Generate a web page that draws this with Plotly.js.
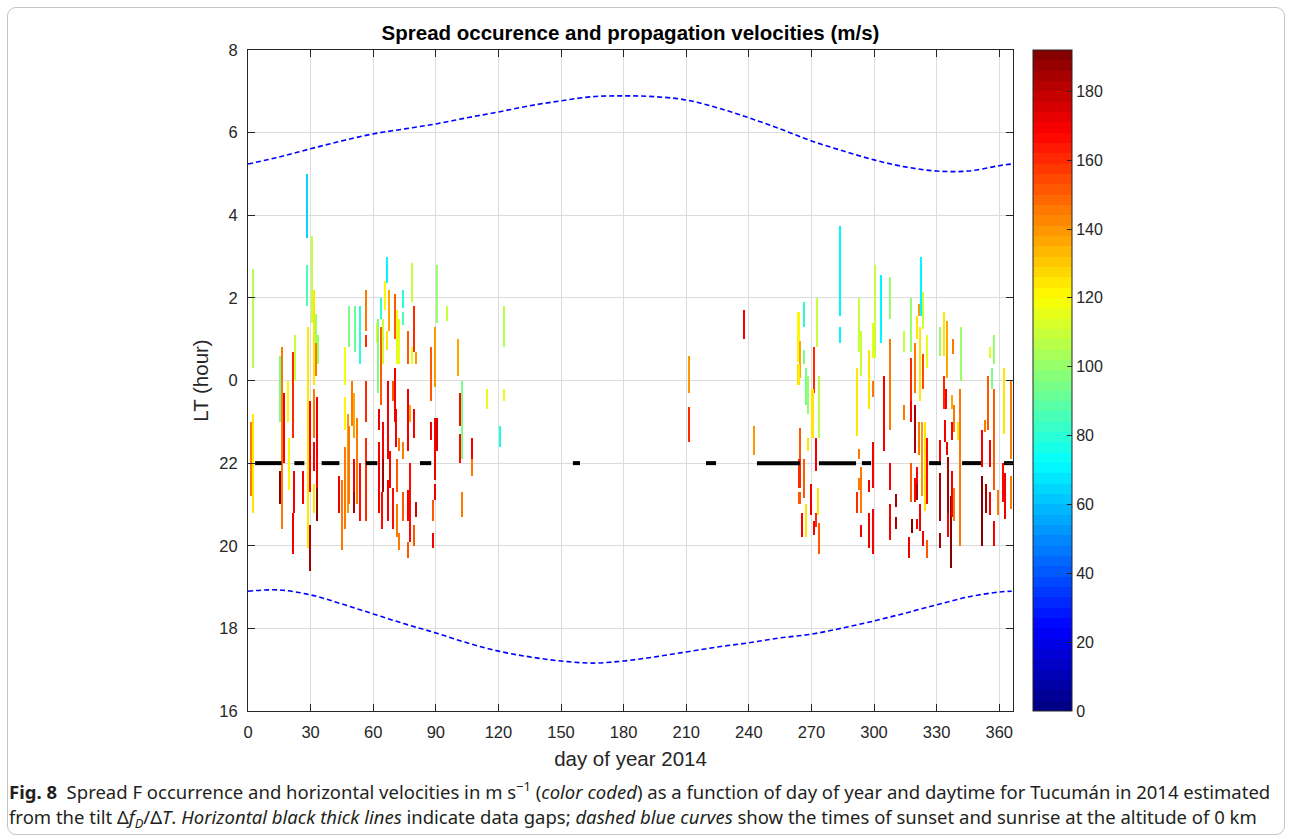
<!DOCTYPE html>
<html><head><meta charset="utf-8">
<script src="https://cdn.plot.ly/plotly-3.0.1.min.js"></script>
<style>
html,body{margin:0;padding:0;background:#fff;}
#chart{position:absolute;left:0;top:0;width:1291px;height:837px;}
#frame{position:absolute;left:7px;top:7px;width:1276px;height:826px;border:1px solid #c4c4c4;border-radius:9px;pointer-events:none;}
</style>
</head><body><div id="chart"></div><div id="frame"></div>
<script>
// ---- spread F segments: day of year, start hour, end hour (hours after 24 = next day), velocity m/s
const day = [
1.5,2.4,2.4,15.5,16.4,17.4,15.5,19.3,19.6,21.7,
22.2,21.7,22.6,26.5,28.4,28.4,28.8,29.6,29.6,30.5,
31.5,31.8,31.5,31.5,32.4,32.6,33.1,33.1,33.5,46.4,
46.5,48.5,51.4,53.5,43.8,44.9,46.5,47.8,48.6,50.0,
50.6,50.8,50.8,52.4,53.7,56.5,56.5,56.5,56.5,61.7,
62.5,63.6,63.6,62.6,62.8,64.5,64.5,64.5,64.3,65.5,
66.5,66.5,67.0,67.0,67.6,68.0,69.7,69.7,70.6,70.5,
71.0,71.6,71.6,71.6,72.5,72.5,72.5,74.4,74.4,74.4,
74.4,76.5,76.5,76.5,76.5,77.6,77.6,78.4,78.7,79.5,
79.5,79.5,80.5,80.5,87.5,87.5,88.5,88.5,89.6,89.6,
89.6,90.6,90.6,95.5,100.5,101.6,101.6,102.5,102.5,107.5,
107.5,114.4,120.6,122.5,122.5,211.5,211.5,237.7,242.5,
283.7,283.7,272.7,266.6,263.8,264.4,263.8,266.6,267.5,268.5,
271.2,270.5,273.5,292.8,293.6,291.7,297.6,300.5,299.7,303.4,
299.7,304.6,307.6,307.6,314.5,322.5,323.6,321.5,320.6,317.7,
319.6,317.7,322.0,323.5,325.5,331.8,333.7,334.8,337.7,341.7,
333.7,355.6,357.5,356.4,354.4,362.4,365.5,264.5,264.3,264.3,
265.6,267.5,266.6,268.5,269.9,272.4,273.2,272.4,271.3,273.5,
292.7,292.7,293.7,291.7,293.7,297.6,297.6,299.6,299.6,307.6,
307.6,310.6,310.6,314.5,317.7,319.6,317.7,319.6,320.6,320.6,
321.5,318.4,320.6,322.0,323.0,324.3,325.5,323.5,325.5,316.6,
331.6,331.6,331.6,334.0,334.5,335.0,335.5,335.5,336.9,337.5,
337.5,338.5,337.5,338.5,340.4,341.2,351.8,353.2,355.6,357.4,
351.8,353.5,355.6,357.6,359.5,361.9,362.8,365.6];
const tStart = [
21.2,20.8,24.3,23.0,20.4,22.0,21.0,23.0,21.35,22.6,
20.8,19.8,24.0,21.0,27.45,25.8,19.95,21.3,19.4,25.4,
23.9,22.6,21.8,20.8,24.4,24.1,21.4,20.6,24.4,23.9,
22.8,24.8,24.7,24.4,20.8,19.9,20.4,20.8,21.0,22.9,
22.6,21.3,20.8,21.0,20.6,25.2,24.8,23.0,20.6,24.9,
23.7,25.5,23.4,22.8,20.8,24.4,22.1,21.3,20.4,25.7,
26.35,24.75,22.1,20.6,25.2,21.4,23.5,20.4,25.0,23.0,
22.4,24.4,21.3,20.2,24.4,22.3,19.9,25.75,25.35,22.1,
20.6,24.4,22.3,20.6,19.7,20.1,23.0,25.9,24.4,24.7,
22.6,20.0,24.4,20.7,23.5,22.55,20.6,19.95,23.85,21.6,
21.1,25.4,22.3,25.45,24.1,22.9,22.0,22.1,20.7,22.1,
21.7,23.3,22.4,24.8,23.5,23.7,22.5,25.0,22.2,
25.55,24.9,24.8,25.3,24.45,24.05,23.9,24.4,23.4,23.2,
23.7,22.6,22.6,24.7,24.1,22.65,23.3,24.55,24.55,24.9,
23.6,22.3,25.5,22.8,24.7,25.55,25.25,25.55,25.0,24.7,
23.7,23.5,23.5,23.8,24.3,24.6,24.6,24.05,24.65,24.0,
23.3,24.55,24.4,23.8,22.8,22.7,22.1,22.1,21.4,21.0,
20.2,20.2,21.15,22.3,20.75,21.8,20.75,20.45,20.25,19.8,
22.1,21.35,20.8,20.8,20.2,19.95,21.3,21.4,19.8,21.35,
20.15,20.95,20.4,23.05,23.0,22.25,21.05,21.05,21.5,21.1,
22.2,20.3,20.4,20.35,21.2,20.85,21.0,20.0,19.7,19.7,
22.05,20.6,19.95,22.5,23.3,22.2,20.8,20.2,19.45,22.55,
23.3,22.75,20.7,20.6,22.55,20.0,21.9,22.75,21.9,21.35,
20.0,20.8,20.75,20.0,20.75,21.05,20.65,20.9];
const tEnd = [
23.0,23.2,26.7,24.6,24.8,23.7,21.8,24.0,22.6,24.7,
21.8,20.8,25.1,21.8,29.0,26.8,25.3,23.5,20.5,27.5,
26.2,23.8,22.5,21.5,25.6,24.9,23.6,21.4,25.1,24.8,
23.6,25.8,25.8,25.8,21.7,21.6,22.4,23.2,22.9,24.0,
23.7,22.1,21.3,23.1,22.0,26.2,25.1,24.0,22.6,25.4,
25.5,26.0,25.3,23.3,22.5,25.5,23.0,22.1,21.3,26.4,
27.0,25.2,24.0,21.6,26.2,22.3,24.0,21.4,26.1,24.3,
23.3,25.7,22.1,21.0,25.5,22.6,20.3,26.2,25.65,22.5,
21.3,25.2,23.8,21.35,20.1,22.0,23.4,26.85,24.8,25.8,
23.3,20.5,24.7,21.05,24.8,23.0,21.1,20.3,25.3,23.1,
21.5,26.8,23.1,25.8,25.0,23.7,22.7,24.0,21.3,22.6,
22.1,23.8,22.9,25.8,23.8,24.6,23.35,25.7,22.9,
27.75,25.3,26.0,25.9,25.65,24.95,24.4,24.75,24.3,24.1,
24.8,23.8,24.1,26.0,25.2,24.3,24.75,26.8,25.4,26.55,
24.0,24.1,26.5,25.0,25.2,27.0,26.15,25.85,25.55,26.0,
24.9,24.55,25.3,24.65,25.1,25.3,25.65,25.45,25.0,25.3,
24.1,24.8,25.1,24.3,24.1,24.3,24.0,22.85,22.1,21.3,
20.8,21.0,22.1,22.6,21.5,22.6,21.4,20.8,20.6,20.55,
22.35,21.65,21.9,21.3,20.5,20.8,21.6,22.5,20.9,22.0,
21.0,21.25,20.7,23.4,23.5,23.4,22.0,21.65,21.9,21.5,
23.0,20.65,20.65,21.0,23.0,23.0,22.6,20.35,20.15,20.2,
22.55,21.75,20.3,23.05,23.8,22.5,22.15,20.8,21.2,23.0,
23.65,23.4,21.8,21.4,23.0,23.8,22.8,23.05,22.55,23.8,
21.7,21.5,21.3,20.6,21.35,22.0,21.75,21.7];
const vel = [
145,125,105,95,145,170,190,120,120,160,
170,170,110,170,65,85,125,170,185,110,
125,145,170,125,100,145,170,190,100,118,
120,95,90,80,170,145,145,140,145,145,
135,170,185,145,165,145,160,160,160,120,
95,80,150,170,170,110,170,185,165,120,
70,125,170,170,135,170,150,165,150,170,
170,115,150,145,115,145,145,80,85,145,
150,150,170,170,150,165,135,110,115,160,
170,150,140,175,150,170,150,170,140,170,
170,100,175,110,135,165,165,95,145,170,
145,115,75,105,115,140,160,170,140,
70,70,110,80,120,135,125,95,95,100,
160,125,105,110,110,125,125,110,115,70,
145,170,100,145,110,70,110,140,125,100,
145,160,125,155,115,100,125,135,145,100,
160,115,100,95,150,125,145,150,160,150,
170,125,150,125,170,170,125,160,170,150,
145,145,145,160,170,170,170,170,170,170,
170,185,185,145,170,185,150,165,170,185,
145,190,170,170,140,125,165,170,150,170,
170,185,185,170,170,170,185,170,190,170,
135,145,170,145,125,145,170,145,170,150,
190,185,170,170,145,165,170,145];

// ---- data gaps (drawn at 22 LT)
const gapStart = [3.4,22.2,35.3,56.5,82.4,155.7,219.5,243.9,273.6,294.2,326.4,342.2,362.3];
const gapEnd   = [16.1,27.0,43.8,62.0,87.8,159.1,224.3,264.5,291.4,298.6,332.1,351.3,366.6];
const gapHour = 22;

// ---- sunrise / sunset at 0 km (hours; sunrise +24)
const sunDay  = [0,15,30,45,60,75,90,105,120,135,150,165,180,195,210,225,240,255,270,285,300,315,330,345,360,366];
const sunrise = [29.24,29.41,29.61,29.80,29.97,30.09,30.21,30.36,30.50,30.65,30.77,30.87,30.89,30.87,30.79,30.60,30.36,30.09,29.80,29.56,29.34,29.17,29.07,29.07,29.20,29.24];
const sunset  = [18.90,18.93,18.81,18.59,18.35,18.11,17.89,17.65,17.45,17.31,17.21,17.16,17.21,17.31,17.43,17.55,17.65,17.77,17.86,18.01,18.18,18.37,18.57,18.76,18.88,18.90];

// ---- axis ticks
const xTicks = [0,30,60,90,120,150,180,210,240,270,300,330,360];
const yTickVals = [16,18,20,22,24,26,28,30,32];
const yTickText = ['16','18','20','22','0','2','4','6','8'];
const cTicks = [0,20,40,60,80,100,120,140,160,180];

// MATLAB-like jet(64) stepped colorscale
function jetc(t){const c=v=>Math.round(255*Math.max(0,Math.min(1,v)));
  return 'rgb('+c(1.5-Math.abs(4*t-3))+','+c(1.5-Math.abs(4*t-2))+','+c(1.5-Math.abs(4*t-1))+')';}
const jet64=[];for(let i=0;i<64;i++){const col=jetc((i+0.5)/64);jet64.push([i/64,col]);jet64.push([(i+1)/64,col]);}

const dur = tEnd.map((e,i)=>e-tStart[i]);
const gx=[],gy=[];gapStart.forEach((s,i)=>{gx.push(s,gapEnd[i],null);gy.push(gapHour,gapHour,null);});

const FONT='Liberation Sans, Arial, Helvetica, sans-serif';
const CAP='Noto Sans, Open Sans, sans-serif';
const AX='#262626';

const traces=[
 {type:'bar',x:day,y:dur,base:tStart,width:1,hoverinfo:'skip',showlegend:false,
  marker:{color:vel,colorscale:jet64,cmin:0,cmax:192,line:{width:0},showscale:true,
   colorbar:{x:1.026,xanchor:'left',y:0.5,yanchor:'middle',len:1,lenmode:'fraction',
    thickness:39,thicknessmode:'pixels',xpad:0,ypad:0,outlinewidth:1,outlinecolor:AX,
    ticks:'inside',ticklen:5,tickcolor:AX,tickvals:cTicks,
    tickfont:{size:16,family:FONT,color:AX}}}},
 {type:'scatter',mode:'lines',x:gx,y:gy,line:{color:'#000',width:4},hoverinfo:'skip',showlegend:false},
 {type:'scatter',mode:'lines',x:sunDay,y:sunrise,line:{color:'#0000ff',width:1.6,dash:'5px,3px',shape:'spline'},hoverinfo:'skip',showlegend:false},
 {type:'scatter',mode:'lines',x:sunDay,y:sunset,line:{color:'#0000ff',width:1.6,dash:'5px,3px',shape:'spline'},hoverinfo:'skip',showlegend:false}
];

const axisCommon={ticks:'inside',ticklen:7,tickcolor:AX,showline:true,linecolor:AX,linewidth:1,
  mirror:'ticks',showgrid:true,gridcolor:'#dcdcdc',gridwidth:1,zeroline:false,
  tickfont:{size:16.5,family:FONT,color:AX}};

const layout={width:1291,height:837,margin:{l:248,r:278,t:50,b:126,pad:0},
 paper_bgcolor:'rgba(0,0,0,0)',plot_bgcolor:'#fff',barmode:'overlay',bargap:0,
 font:{family:FONT,color:AX},
 title:{text:'<b>Spread occurence and propagation velocities (m/s)</b>',x:0.5,xref:'paper',xanchor:'center',
   y:1-33/837,yref:'container',yanchor:'middle',font:{size:20.5,family:FONT,color:'#000'}},
 xaxis:Object.assign({},axisCommon,{range:[0,366.6],tickmode:'array',tickvals:xTicks,ticklabelstandoff:6,
   title:{text:'day of year 2014',font:{size:20.5,family:FONT,color:AX},standoff:11}}),
 yaxis:Object.assign({},axisCommon,{range:[16,32],tickmode:'array',tickvals:yTickVals,ticktext:yTickText,ticklabelstandoff:6,
   title:{text:'LT (hour)',font:{size:20.5,family:FONT,color:AX},standoff:5}}),
 annotations:[
  {xref:'paper',yref:'paper',x:-0.315,y:(711-790)/661,xanchor:'left',yanchor:'middle',showarrow:false,align:'left',
   font:{family:CAP,size:18.5,color:'#231f20'},
   text:'<b>Fig. 8</b>  Spread F occurrence and horizontal velocities in m s<sup>−1</sup> (<i>color coded</i>) as a function of day of year and daytime for Tucumán in 2014 estimated'},
  {xref:'paper',yref:'paper',x:-0.315,y:(711-818)/661,xanchor:'left',yanchor:'middle',showarrow:false,align:'left',
   font:{family:CAP,size:18.5,color:'#231f20'},
   text:'from the tilt Δ<i>f</i><sub><i>D</i></sub>/Δ<i>T</i>. <i>Horizontal black thick lines</i> indicate data gaps; <i>dashed blue curves</i> show the times of sunset and sunrise at the altitude of 0 km'}
 ]};

Plotly.newPlot('chart',traces,layout,{staticPlot:true,displayModeBar:false});
</script></body></html>
